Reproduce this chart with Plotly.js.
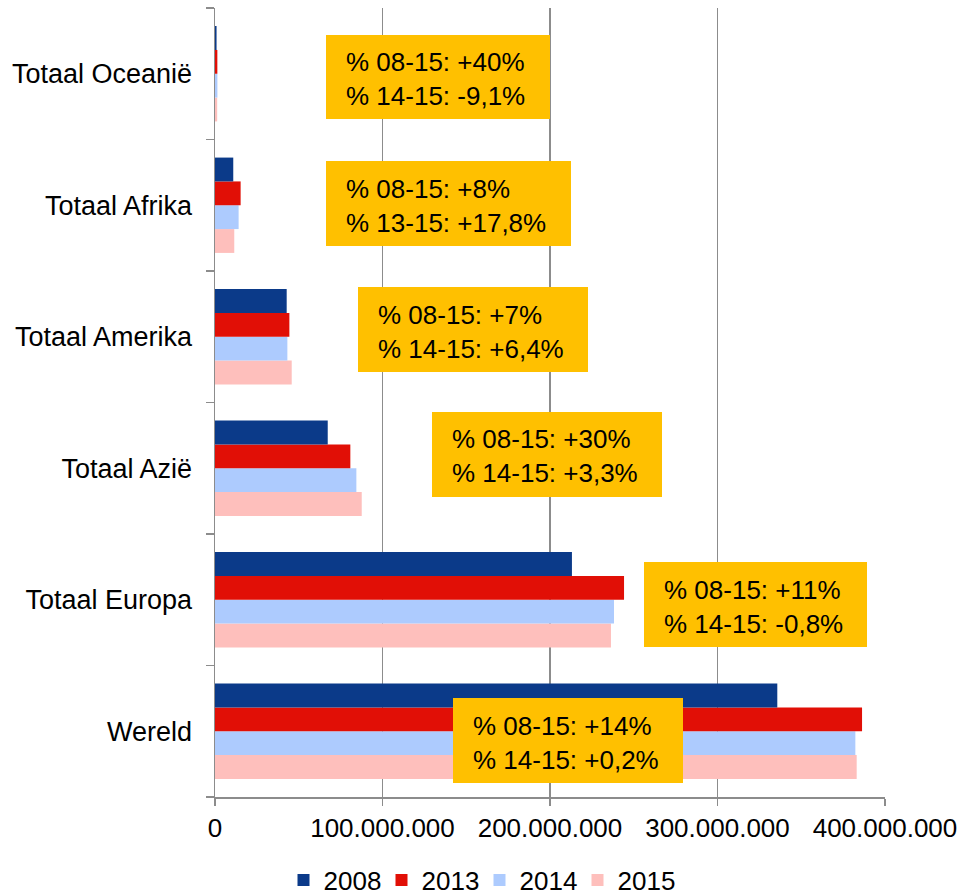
<!DOCTYPE html>
<html>
<head>
<meta charset="utf-8">
<script src="https://cdn.plot.ly/plotly-3.0.1.min.js"></script>
<style>html,body{margin:0;padding:0;background:#fff;}#chart{width:959px;height:895px;}</style>
</head>
<body>
<div id="chart"></div>
<script>
// ---- data ----
const categories = ['Wereld', 'Totaal Europa', 'Totaal Azië', 'Totaal Amerika', 'Totaal Afrika', 'Totaal Oceanië'];
const years = ['2008', '2013', '2014', '2015'];
const v2008 = [335.7e6, 213.1e6, 67.3e6, 42.8e6, 10.9e6, 0.93e6];
const v2013 = [386.3e6, 244.2e6, 80.8e6, 44.4e6, 15.3e6, 1.4e6];
const v2014 = [382.3e6, 238.2e6, 84.4e6, 43.2e6, 14.1e6, 1.43e6];
const v2015 = [383.1e6, 236.4e6, 87.6e6, 45.8e6, 11.5e6, 1.3e6];
const noteLine1 = ['% 08-15: +14%', '% 08-15: +11%', '% 08-15: +30%', '% 08-15: +7%', '% 08-15: +8%', '% 08-15: +40%'];
const noteLine2 = ['% 14-15: +0,2%', '% 14-15: -0,8%', '% 14-15: +3,3%', '% 14-15: +6,4%', '% 13-15: +17,8%', '% 14-15: -9,1%'];

// ---- styles ----
const colors = {'2008': '#0B3A89', '2013': '#E10F06', '2014': '#ADCBFE', '2015': '#FEBFBC'};
const seriesValues = {'2008': v2008, '2013': v2013, '2014': v2014, '2015': v2015};
const FONT = 'Liberation Sans, Arial, sans-serif';

// plot area in pixels
const W = 959, H = 895;
const M = {l: 215, r: 74, t: 8, b: 98};
const PW = W - M.l - M.r, PH = H - M.t - M.b;
const px2x = p => (p - M.l) / PW;
const px2y = p => (H - M.b - p) / PH;

// note boxes in pixels [left, top, right, bottom], same order as categories
const boxes = [
  [453, 698, 683, 783],
  [644, 562, 867, 647],
  [432, 412, 662, 497],
  [358, 287, 588, 372],
  [326, 161, 571, 246],
  [326, 35, 550, 119]
];

const traces = years.slice().reverse().map(y => ({
  type: 'bar',
  orientation: 'h',
  name: y,
  y: categories,
  x: seriesValues[y],
  marker: {color: colors[y]},
  hoverinfo: 'x+name'
}));

const shapes = boxes.map(b => ({
  type: 'rect', xref: 'paper', yref: 'paper', layer: 'above',
  x0: px2x(b[0]), x1: px2x(b[2]), y0: px2y(b[3]), y1: px2y(b[1]),
  fillcolor: '#FFC000', line: {width: 0}
}));

const annotations = boxes.map((b, i) => ({
  xref: 'paper', yref: 'paper',
  x: px2x(b[0] + 18), y: px2y((b[1] + b[3]) / 2 + 2),
  xanchor: 'left', yanchor: 'middle', align: 'left',
  showarrow: false,
  text: noteLine1[i] + '<br>' + noteLine2[i],
  font: {family: FONT, size: 26, color: '#000'}
}));

const layout = {
  width: W, height: H,
  margin: M,
  paper_bgcolor: '#fff', plot_bgcolor: '#fff',
  font: {family: FONT, size: 26, color: '#000'},
  separators: ',.',
  barmode: 'group',
  bargap: 0.275,
  bargroupgap: 0,
  showlegend: true,
  legend: {
    orientation: 'h', traceorder: 'reversed',
    x: 0.5, xref: 'container', xanchor: 'center',
    y: (H - 880) / H, yref: 'container', yanchor: 'middle',
    font: {family: FONT, size: 26, color: '#000'},
    entrywidth: 53, entrywidthmode: 'pixels'
  },
  xaxis: {
    range: [0, 400000000], dtick: 100000000, tick0: 0,
    tickformat: ',d',
    showgrid: true, gridcolor: '#8c8c8c', gridwidth: 1.5,
    zeroline: false,
    showline: true, linecolor: '#8c8c8c', linewidth: 1.5,
    ticks: 'outside', ticklen: 7, tickcolor: '#8c8c8c', tickwidth: 1.5,
    tickfont: {family: FONT, size: 26, color: '#000'},
    fixedrange: true
  },
  yaxis: {
    type: 'category',
    categoryorder: 'array', categoryarray: categories,
    showgrid: false, zeroline: false,
    showline: true, linecolor: '#8c8c8c', linewidth: 1.5,
    ticks: 'outside', ticklen: 8, tickcolor: '#8c8c8c', tickwidth: 1.5,
    tickson: 'boundaries',
    ticklabelstandoff: 16,
    tickfont: {family: FONT, size: 27, color: '#000'},
    fixedrange: true
  },
  shapes: shapes,
  annotations: annotations
};

Plotly.newPlot('chart', traces, layout, {displayModeBar: false, staticPlot: true});
</script>
</body>
</html>
